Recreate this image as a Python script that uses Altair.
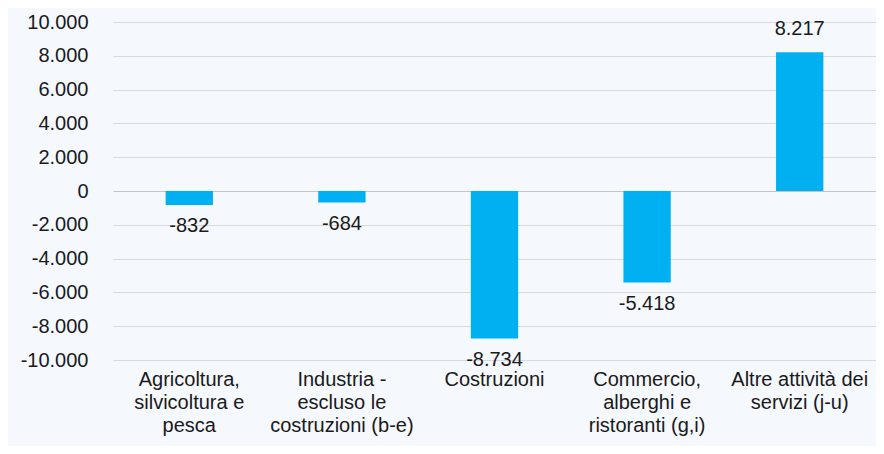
import altair as alt
import pandas as pd

categories = [
    "Agricoltura,|silvicoltura e|pesca",
    "Industria -|escluso le|costruzioni (b-e)",
    "Costruzioni",
    "Commercio,|alberghi e|ristoranti (g,i)",
    "Altre attività dei|servizi (j-u)",
]
values = [-832, -684, -8734, -5418, 8217]
y_ticks = [-10000, -8000, -6000, -4000, -2000, 0, 2000, 4000, 6000, 8000, 10000]

df = pd.DataFrame({"cat": categories, "val": values})

FONT = "Liberation Sans"
BG = "#F5F8FD"
TXT = "#1a1a1a"
FMT = "replace(replace(format({v}, ','), ',', '.'), '\u2212', '-')"

base = alt.Chart(df)

x_enc = alt.X(
    "cat:N",
    sort=categories,
    title=None,
    scale=alt.Scale(paddingInner=0.69, paddingOuter=0.345),
    axis=alt.Axis(
        labelExpr="split(datum.label, '|')",
        labelAngle=0,
        labelFontSize=20,
        labelFont=FONT,
        labelColor=TXT,
        labelPadding=9,
        labelLineHeight=23,
        labelBaseline="top",
        ticks=False,
        domain=False,
        grid=False,
        labelLimit=300,
        labelOverlap=False,
    ),
)

y_enc = alt.Y(
    "val:Q",
    title=None,
    scale=alt.Scale(domain=[-10000, 10000], nice=False),
    axis=alt.Axis(
        values=y_ticks,
        labelExpr=FMT.format(v="datum.value"),
        labelFontSize=20,
        labelFont=FONT,
        labelColor=TXT,
        labelPadding=25,
        labelOverlap=False,
        ticks=False,
        domain=False,
        grid=True,
        gridColor={"condition": {"test": "datum.value === 0", "value": "#C4C4C4"}, "value": "#D9D9D9"},
        gridWidth=1,
    ),
)

bars = base.mark_bar(color="#00B0F0").encode(x=x_enc, y=y_enc)

labels_pos = base.transform_filter("datum.val >= 0").transform_calculate(
    lbl=FMT.format(v="datum.val")
).mark_text(dy=-23, fontSize=20, font=FONT, color=TXT).encode(
    x=x_enc, y=y_enc, text="lbl:N"
)
labels_neg = base.transform_filter("datum.val < 0").transform_calculate(
    lbl=FMT.format(v="datum.val")
).mark_text(dy=21, fontSize=20, font=FONT, color=TXT).encode(
    x=x_enc, y=y_enc, text="lbl:N"
)

chart = (
    alt.layer(bars, labels_pos, labels_neg)
    .properties(
        width=763,
        height=338,
        autosize=alt.AutoSizeParams(type="none"),
        padding={"left": 105, "top": 14, "right": 0, "bottom": 86},
        background=BG,
    )
    .configure_view(stroke=None)
    .configure_axis(labelOverlap=False)
)

chart.save("out.html", embed_options={"renderer": "svg", "actions": False})
